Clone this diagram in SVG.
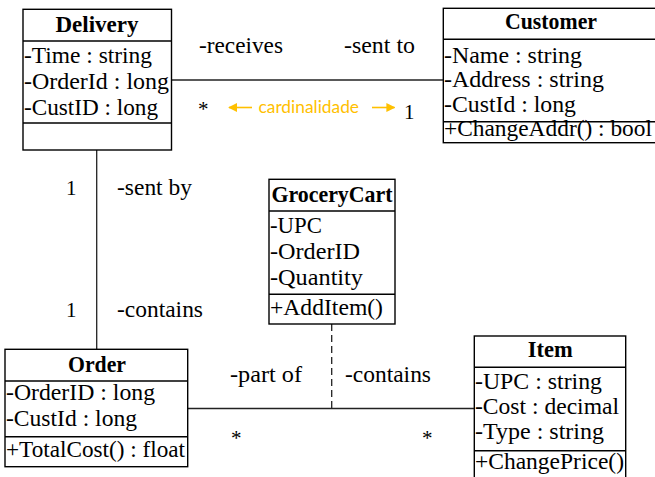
<svg xmlns="http://www.w3.org/2000/svg" width="655" height="477" viewBox="0 0 655 477">
  <style>
    .box { fill: #ffffff; stroke: #000000; stroke-width: 1.4; }
    .sep { stroke: #000000; stroke-width: 1.4; fill: none; }
    .title { font-family: "Liberation Serif", "Times New Roman", serif; font-size: 23px; font-weight: bold; text-anchor: middle; fill: #000; }
    .attr { font-family: "Liberation Serif", "Times New Roman", serif; font-size: 23.5px; fill: #000; }
    .lbl { font-family: "Liberation Serif", "Times New Roman", serif; font-size: 22.5px; fill: #000; }
    .mult { font-family: "Liberation Serif", "Times New Roman", serif; font-size: 21px; fill: #000; }
    .link { stroke: #222222; stroke-width: 1.3; fill: none; }
    .dash { stroke: #222222; stroke-width: 1.3; fill: none; stroke-dasharray: 7 4; }
    .note { font-family: Lato, "Liberation Sans", sans-serif; font-size: 18px; fill: #FFC000; }
    .noteArrow { stroke: #FFC000; stroke-width: 1.6; fill: none; }
  </style>
  <defs>
    <marker id="orangeHead" viewBox="0 0 10 10" refX="9" refY="5" markerWidth="9" markerHeight="9" orient="auto-start-reverse" markerUnits="userSpaceOnUse">
      <path d="M0,0 L10,5 L0,10 Z" fill="#FFC000"/>
    </marker>
  </defs>

  <rect width="655" height="477" fill="#ffffff"/>

  <!-- associations -->
  <g id="connectors">
    <line class="link" x1="171" y1="80" x2="443" y2="80"/>
    <line class="link" x1="96.7" y1="150" x2="96.7" y2="349"/>
    <line class="link" x1="188" y1="408.5" x2="474" y2="408.5"/>
    <line class="dash" x1="331.7" y1="324" x2="331.7" y2="408.5"/>
  </g>

  <!-- association role names and multiplicities -->
  <g id="labels">
    <text class="lbl" x="199" y="53" textLength="84" lengthAdjust="spacingAndGlyphs">-receives</text>
    <text class="lbl" x="344" y="53" textLength="71" lengthAdjust="spacingAndGlyphs">-sent to</text>
    <text class="mult" x="198" y="116">*</text>
    <text class="mult" x="404" y="119">1</text>
    <text class="mult" x="66" y="195">1</text>
    <text class="lbl" x="117" y="195" textLength="75" lengthAdjust="spacingAndGlyphs">-sent by</text>
    <text class="mult" x="66" y="317">1</text>
    <text class="lbl" x="117" y="317" textLength="86" lengthAdjust="spacingAndGlyphs">-contains</text>
    <text class="lbl" x="230" y="382" textLength="72" lengthAdjust="spacingAndGlyphs">-part of</text>
    <text class="lbl" x="345" y="382" textLength="86" lengthAdjust="spacingAndGlyphs">-contains</text>
    <text class="mult" x="231" y="445">*</text>
    <text class="mult" x="422" y="445">*</text>
  </g>

  <!-- cardinality annotation -->
  <g id="cardinality-note">
    <line class="noteArrow" x1="252" y1="107.5" x2="229" y2="107.5" marker-end="url(#orangeHead)"/>
    <text class="note" x="258.5" y="113" textLength="100.5" lengthAdjust="spacingAndGlyphs">cardinalidade</text>
    <line class="noteArrow" x1="372" y1="107.5" x2="394.5" y2="107.5" marker-end="url(#orangeHead)"/>
  </g>

  <g id="delivery">
    <rect class="box" x="23" y="9.3" width="148.5" height="140.7"/>
    <line class="sep" x1="23" y1="41" x2="171.5" y2="41"/>
    <line class="sep" x1="23" y1="123" x2="171.5" y2="123"/>
    <text class="title" x="97" y="32" textLength="83" lengthAdjust="spacingAndGlyphs">Delivery</text>
    <text class="attr" x="24" y="63" textLength="128" lengthAdjust="spacingAndGlyphs">-Time : string</text>
    <text class="attr" x="24" y="89" textLength="145" lengthAdjust="spacingAndGlyphs">-OrderId : long</text>
    <text class="attr" x="24" y="115" textLength="134" lengthAdjust="spacingAndGlyphs">-CustID : long</text>
  </g>

  <g id="customer">
    <rect class="box" x="443.3" y="8.3" width="220" height="134.4"/>
    <line class="sep" x1="443.3" y1="39.3" x2="663" y2="39.3"/>
    <line class="sep" x1="443.3" y1="121.7" x2="663" y2="121.7"/>
    <text class="title" x="551" y="29" textLength="92" lengthAdjust="spacingAndGlyphs">Customer</text>
    <text class="attr" x="444" y="63" textLength="138" lengthAdjust="spacingAndGlyphs">-Name : string</text>
    <text class="attr" x="444" y="87" textLength="160" lengthAdjust="spacingAndGlyphs">-Address : string</text>
    <text class="attr" x="444" y="112" textLength="132" lengthAdjust="spacingAndGlyphs">-CustId : long</text>
    <text class="attr" x="444" y="136" textLength="208" lengthAdjust="spacingAndGlyphs">+ChangeAddr() : bool</text>
  </g>

  <g id="grocerycart">
    <rect class="box" x="269" y="179.3" width="126" height="144.7"/>
    <line class="sep" x1="269" y1="211" x2="395" y2="211"/>
    <line class="sep" x1="269" y1="294.3" x2="395" y2="294.3"/>
    <text class="title" x="332" y="202" textLength="121" lengthAdjust="spacingAndGlyphs">GroceryCart</text>
    <text class="attr" x="270" y="233" textLength="52" lengthAdjust="spacingAndGlyphs">-UPC</text>
    <text class="attr" x="270" y="259" textLength="90" lengthAdjust="spacingAndGlyphs">-OrderID</text>
    <text class="attr" x="270" y="285" textLength="93" lengthAdjust="spacingAndGlyphs">-Quantity</text>
    <text class="attr" x="270" y="315" textLength="113" lengthAdjust="spacingAndGlyphs">+AddItem()</text>
  </g>

  <g id="order">
    <rect class="box" x="5" y="349.3" width="182.7" height="117.4"/>
    <line class="sep" x1="5" y1="381" x2="187.7" y2="381"/>
    <line class="sep" x1="5" y1="436.7" x2="187.7" y2="436.7"/>
    <text class="title" x="97" y="372" textLength="58" lengthAdjust="spacingAndGlyphs">Order</text>
    <text class="attr" x="6" y="400" textLength="149" lengthAdjust="spacingAndGlyphs">-OrderID : long</text>
    <text class="attr" x="6" y="426" textLength="131" lengthAdjust="spacingAndGlyphs">-CustId : long</text>
    <text class="attr" x="6" y="457" textLength="179" lengthAdjust="spacingAndGlyphs">+TotalCost() : float</text>
  </g>

  <g id="item">
    <rect class="box" x="474.3" y="336" width="151.4" height="150"/>
    <line class="sep" x1="474.3" y1="367.3" x2="625.7" y2="367.3"/>
    <line class="sep" x1="474.3" y1="450.7" x2="625.7" y2="450.7"/>
    <text class="title" x="550.3" y="357" textLength="45" lengthAdjust="spacingAndGlyphs">Item</text>
    <text class="attr" x="475" y="388.5" textLength="127" lengthAdjust="spacingAndGlyphs">-UPC : string</text>
    <text class="attr" x="475" y="413.5" textLength="144" lengthAdjust="spacingAndGlyphs">-Cost : decimal</text>
    <text class="attr" x="475" y="438.5" textLength="129" lengthAdjust="spacingAndGlyphs">-Type : string</text>
    <text class="attr" x="475" y="469" textLength="149" lengthAdjust="spacingAndGlyphs">+ChangePrice()</text>
  </g>
</svg>
